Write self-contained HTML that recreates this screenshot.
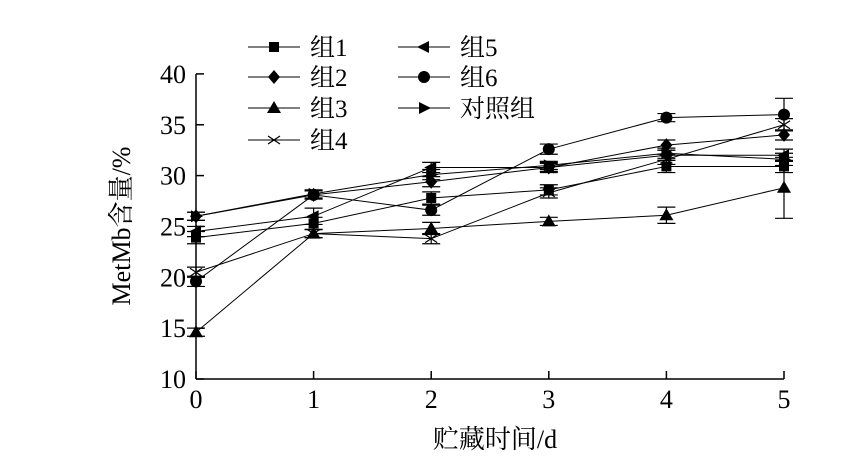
<!DOCTYPE html>
<html><head><meta charset="utf-8"><style>
body{margin:0;background:#fff}
text{font-family:"Liberation Serif","Noto Serif CJK SC",serif;fill:#000}
</style></head><body>
<svg id="c" width="847" height="470" xmlns="http://www.w3.org/2000/svg"></svg>
<script>
const days=[0,1,2,3,4,5];
const yTicks=[10,15,20,25,30,35,40];
const seriesNames=["组1","组2","组3","组4","组5","组6","对照组"];
const g1=[23.9,25.3,27.8,28.6,30.9,30.9];
const g2=[26.0,28.1,29.4,30.8,33.0,34.0];
const g3=[14.6,24.3,24.8,25.5,26.1,28.8];
const g4=[20.5,24.3,23.8,28.3,31.6,35.0];
const g5=[24.5,26.0,30.8,30.8,32.0,32.0];
const g6=[19.6,28.1,26.6,32.6,35.7,36.0];
const gc=[26.0,28.2,30.1,31.0,32.2,31.6];
const e1=[0.6,0.6,0.6,0.5,0.6,0.6];
const e2=[0.4,0.4,0.5,0.4,0.5,0.5];
const e3=[0.4,0.4,0.6,0.4,0.8,3.0];
const e4=[0.5,0.4,0.5,0.5,0.5,0.6];
const e5=[0.5,0.8,0.5,0.5,0.5,0.6];
const e6=[0.5,0.4,0.5,0.5,0.4,1.6];
const ec=[0.4,0.4,0.5,0.4,0.5,0.6];
const S=document.getElementById('c'),NS='http://www.w3.org/2000/svg';
const X=d=>196+d*117.6, Y=v=>379-(v-10)*10.17;
function el(t,a,p){const e=document.createElementNS(NS,t);for(const k in a)e.setAttribute(k,a[k]);(p||S).appendChild(e);return e;}
function txt(s,a){const e=el('text',a);e.textContent=s;return e;}
// axes
let ax=el('g',{stroke:'#000','stroke-width':1.5,fill:'none'});


el('line',{x1:196,y1:Y(40),x2:196,y2:Y(10)},ax);
el('line',{x1:196,y1:Y(10),x2:X(5),y2:Y(10)},ax);
yTicks.forEach(v=>{el('line',{x1:196,y1:Y(v),x2:204,y2:Y(v)},ax);
 const t=txt(v,{x:186,y:Y(v)+9,'text-anchor':'end','font-size':26});
 });
days.forEach(d=>{el('line',{x1:X(d),y1:Y(10),x2:X(d),y2:Y(10)-8},ax);
 const t=txt(d,{x:X(d),y:408,'text-anchor':'middle','font-size':26});
 });
let yt=txt('MetMb含量/%',{x:0,y:0,'text-anchor':'middle','font-size':26,transform:'translate(130,226) rotate(-90)'});

let xt=txt('贮藏时间/d',{x:495,y:448,'text-anchor':'middle','font-size':26});

function marker(type,x,y,p){
 if(type==0) el('rect',{x:x-5,y:y-5,width:10,height:10,fill:'#000'},p);
 else if(type==1) el('polygon',{points:`${x},${y-7} ${x+6},${y} ${x},${y+7} ${x-6},${y}`,fill:'#000'},p);
 else if(type==2) el('polygon',{points:`${x},${y-7} ${x+7},${y+5} ${x-7},${y+5}`,fill:'#000'},p);
 else if(type==3){el('path',{d:`M${x-6} ${y-4}L${x+6} ${y+4}M${x-6} ${y+4}L${x+6} ${y-4}`,stroke:'#000','stroke-width':1.2},p);}
 else if(type==4) el('polygon',{points:`${x-7},${y} ${x+5},${y-6} ${x+5},${y+6}`,fill:'#000'},p);
 else if(type==5) el('circle',{cx:x,cy:y,r:6,fill:'#000'},p);
 else el('polygon',{points:`${x+7},${y} ${x-5},${y-6} ${x-5},${y+6}`,fill:'#000'},p);
}
const vals=[g1,g2,g3,g4,g5,g6,gc], errs=[e1,e2,e3,e4,e5,e6,ec];
const names=['group1','group2','group3','group4','group5','group6','control'];
vals.forEach((v,i)=>{
 const g=el('g',{});
 
 
 el('polyline',{points:v.map((y,j)=>X(days[j])+','+Y(y)).join(' '),fill:'none',stroke:'#000','stroke-width':1},g);
 v.forEach((y,j)=>{const x=X(days[j]),e=errs[i][j];
  el('path',{d:`M${x} ${Y(y-e)}V${Y(y+e)}M${x-9} ${Y(y-e)}H${x+9}M${x-9} ${Y(y+e)}H${x+9}`,stroke:'#000','stroke-width':1.2,fill:'none'},g);
  marker(i,x,Y(y),g);});
});
// legend
const lx=[248,398], ly=[47,77,108,140];
seriesNames.forEach((n,i)=>{
 const col=i<4?0:1,row=i<4?i:i-4;
 const g=el('g',{});
 
 
 const x=lx[col],y=ly[row];
 el('line',{x1:x,y1:y,x2:x+52,y2:y,stroke:'#000','stroke-width':1},g);
 marker(i,x+26,y,g);
 const t=el('text',{x:x+62,y:y+9,'font-size':25},g);t.textContent=n;
});
</script>
</body></html>
